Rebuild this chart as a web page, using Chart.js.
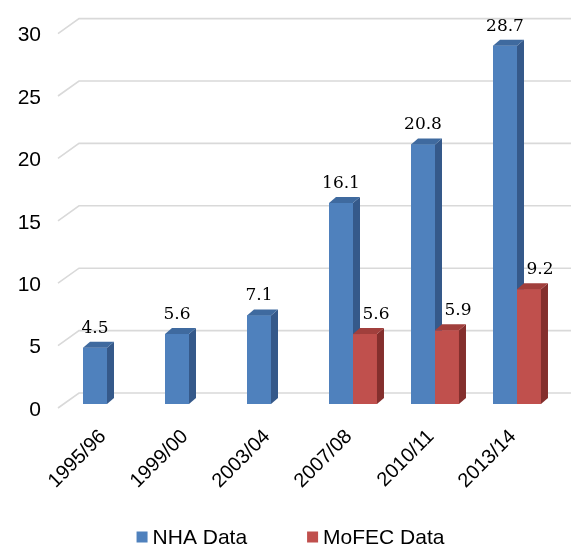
<!DOCTYPE html>
<html>
<head>
<meta charset="utf-8">
<script src="https://cdn.jsdelivr.net/npm/chart.js@4/dist/chart.umd.min.js"></script>
<style>
  html, body { margin: 0; padding: 0; background: #ffffff; }
  #wrap { width: 571px; height: 547px; }
</style>
</head>
<body>
<div id="wrap"><canvas id="chart" width="571" height="547"></canvas></div>
<script>
// Survey periods and the two data sources
const categories = ['1995/96', '1999/00', '2003/04', '2007/08', '2010/11', '2013/14'];
const nhaValues = [4.5, 5.6, 7.1, 16.1, 20.8, 28.7];
const mofecValues = [null, null, null, 5.6, 5.9, 9.2];
const yTickValues = [0, 5, 10, 15, 20, 25, 30];

// 3D look: depth of each bar and of the back wall
const DEPTH_X = 7, DEPTH_Y = -6;
const WALL_FRONT = { dx: -8, dy: 4 };
const WALL_BACK = { dx: 13, dy: -11 };

const shades = {
  '#4f81bd': { side: '#35598a', top: '#3f6a9f' },
  '#c0504d': { side: '#842f2d', top: '#a13f3c' }
};

const SANS = '"Liberation Sans", Arial, sans-serif';
Chart.defaults.font.family = SANS;
Chart.defaults.color = '#000000';

// Grid lines: slanted floor edge plus the line on the back wall
const wallGrid = {
  id: 'wallGrid',
  beforeDatasetsDraw(chart) {
    const { ctx, chartArea: a } = chart;
    const ys = chart.scales.y;
    ctx.save();
    ctx.strokeStyle = '#d9d9d9';
    ctx.lineWidth = 1.6;
    ys.ticks.forEach(t => {
      const py = ys.getPixelForValue(t.value);
      ctx.beginPath();
      ctx.moveTo(a.left + WALL_FRONT.dx, py + WALL_FRONT.dy);
      ctx.lineTo(a.left + WALL_BACK.dx, py + WALL_BACK.dy);
      ctx.lineTo(chart.width, py + WALL_BACK.dy);
      ctx.stroke();
    });
    ctx.restore();
  }
};

// Extruded bars: front face, right side and top face
const bars3d = {
  id: 'bars3d',
  afterDatasetsDraw(chart) {
    const ctx = chart.ctx;
    chart.data.datasets.forEach((ds, di) => {
      const meta = chart.getDatasetMeta(di);
      const col = ds.backgroundColor;
      meta.data.forEach((bar, i) => {
        if (ds.data[i] == null) return;
        const { x, y, base, width } = bar.getProps(['x', 'y', 'base', 'width'], true);
        const l = x - width / 2, r = x + width / 2;
        ctx.save();
        ctx.fillStyle = col;
        ctx.fillRect(l, y, width, base - y);
        ctx.fillStyle = shades[col].side;
        ctx.beginPath();
        ctx.moveTo(r, y);
        ctx.lineTo(r + DEPTH_X, y + DEPTH_Y);
        ctx.lineTo(r + DEPTH_X, base + DEPTH_Y);
        ctx.lineTo(r, base);
        ctx.closePath();
        ctx.fill();
        ctx.fillStyle = shades[col].top;
        ctx.beginPath();
        ctx.moveTo(l, y);
        ctx.lineTo(l + DEPTH_X, y + DEPTH_Y);
        ctx.lineTo(r + DEPTH_X, y + DEPTH_Y);
        ctx.lineTo(r, y);
        ctx.closePath();
        ctx.fill();
        ctx.restore();
      });
    });
  }
};

// Value labels above each bar
const valueLabels = {
  id: 'valueLabels',
  afterDatasetsDraw(chart) {
    const ctx = chart.ctx;
    ctx.save();
    ctx.font = '17px "DejaVu Serif", serif';
    ctx.fillStyle = '#000000';
    ctx.textAlign = 'center';
    ctx.textBaseline = 'alphabetic';
    chart.data.datasets.forEach((ds, di) => {
      const meta = chart.getDatasetMeta(di);
      meta.data.forEach((bar, i) => {
        const v = ds.data[i];
        if (v == null) return;
        const shift = di === 1 ? 11 : 0;
        ctx.fillText(v.toFixed(1), bar.x + shift, bar.y - 15);
      });
    });
    ctx.restore();
  }
};

// Legend row under the chart: square swatch + series name
const bottomLegend = {
  id: 'bottomLegend',
  afterDraw(chart) {
    const ctx = chart.ctx;
    const box = 11, gapText = 5, gapItem = 60, cy = 537;
    ctx.save();
    ctx.font = '21px ' + SANS;
    ctx.textBaseline = 'middle';
    ctx.textAlign = 'left';
    const items = chart.data.datasets.map(ds => ({
      text: ds.label, color: ds.backgroundColor, w: ctx.measureText(ds.label).width
    }));
    const total = items.reduce((s, it) => s + box + gapText + it.w, 0) + gapItem * (items.length - 1);
    let x = chart.width / 2 + 5 - total / 2;
    items.forEach(it => {
      ctx.fillStyle = it.color;
      ctx.fillRect(x, cy - box / 2, box, box);
      ctx.fillStyle = '#000000';
      ctx.fillText(it.text, x + box + gapText, cy + 1);
      x += box + gapText + it.w + gapItem;
    });
    ctx.restore();
  }
};

new Chart(document.getElementById('chart'), {
  type: 'bar',
  data: {
    labels: categories,
    datasets: [
      { label: 'NHA Data', data: nhaValues, backgroundColor: '#4f81bd', borderWidth: 0 },
      { label: 'MoFEC Data', data: mofecValues, backgroundColor: '#c0504d', borderWidth: 0 }
    ]
  },
  options: {
    responsive: false,
    animation: false,
    devicePixelRatio: 1,
    layout: { padding: { left: 0, right: 13, top: 27, bottom: 48 } },
    datasets: { bar: { barPercentage: 1, categoryPercentage: 0.585 } },
    scales: {
      x: {
        grid: { display: false },
        border: { display: false },
        ticks: { minRotation: 45, maxRotation: 45, padding: 13, labelOffset: -4, font: { size: 20 }, color: '#000000' },
        afterFit(s) { s.height = 95; }
      },
      y: {
        min: 0,
        max: 30,
        grid: { display: false },
        border: { display: false },
        afterBuildTicks(s) { s.ticks = yTickValues.map(v => ({ value: v })); },
        ticks: { padding: 17, labelOffset: 6, font: { size: 21 }, color: '#000000' },
        afterFit(s) { s.width = 66; }
      }
    },
    plugins: {
      tooltip: { enabled: false },
      legend: { display: false }
    }
  },
  plugins: [wallGrid, bars3d, valueLabels, bottomLegend]
});
</script>
</body>
</html>
